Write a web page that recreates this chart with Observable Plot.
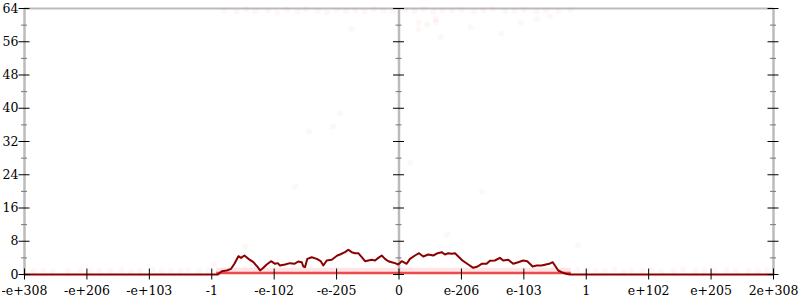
<!DOCTYPE html>
<html>
<head>
<meta charset="utf-8">
<script src="https://cdn.jsdelivr.net/npm/d3@7"></script>
<script src="https://cdn.jsdelivr.net/npm/@observablehq/plot@0.6"></script>
<style>
  html, body { margin: 0; padding: 0; background: #fff; }
  #chart svg { display: block; }
</style>
</head>
<body>
<div id="chart"></div>
<script>
// Tick positions (index space) and their labels
const xTicks = [-6, -5, -4, -3, -2, -1, 0, 1, 2, 3, 4, 5, 6];
const xTickLabels = ["-e+308", "-e+206", "-e+103", "-1", "-e-102", "-e-205", "0", "e-206", "e-103", "1", "e+102", "e+205", "2e+308"];
const yMajor = [0, 8, 16, 24, 32, 40, 48, 56, 64];
const yMinor = [4, 12, 20, 28, 36, 44, 52, 60];
const axisXs = [-6, 0, 6];

// Dark red series
const lineX = [-6, -2.903, -2.839, -2.759, -2.690, -2.637, -2.573, -2.530, -2.477, -2.413, -2.333, -2.263, -2.226, -2.173, -2.119, -2.050, -1.986, -1.943, -1.906, -1.826, -1.746, -1.677, -1.613, -1.558, -1.533, -1.506, -1.469, -1.398, -1.318, -1.254, -1.212, -1.158, -1.078, -1.025, -0.988, -0.945, -0.865, -0.812, -0.758, -0.705, -0.652, -0.597, -0.544, -0.491, -0.436, -0.384, -0.331, -0.277, -0.224, -0.171, -0.117, -0.064, -0.011, 0.043, 0.123, 0.176, 0.256, 0.320, 0.389, 0.469, 0.549, 0.620, 0.684, 0.737, 0.789, 0.844, 0.897, 0.950, 1.004, 1.057, 1.110, 1.190, 1.260, 1.324, 1.404, 1.457, 1.537, 1.617, 1.670, 1.750, 1.830, 1.910, 1.990, 2.054, 2.109, 2.141, 2.205, 2.285, 2.354, 2.407, 2.461, 2.498, 2.551, 2.605, 2.674, 2.738, 6];
const lineY = [0, 0, 0.79, 0.96, 1.37, 2.57, 4.40, 4.00, 4.57, 3.77, 2.96, 1.76, 0.96, 1.61, 2.41, 3.20, 2.57, 2.73, 2.17, 2.41, 2.73, 2.57, 3.13, 2.96, 1.93, 1.76, 3.77, 4.16, 3.77, 3.20, 2.17, 3.37, 3.53, 4.16, 4.57, 4.81, 5.37, 5.95, 5.37, 5.13, 5.13, 4.16, 3.20, 3.37, 3.53, 3.37, 4.00, 4.57, 3.77, 3.20, 2.96, 2.73, 2.41, 3.20, 2.57, 3.77, 4.57, 5.13, 4.33, 4.81, 4.57, 5.13, 5.37, 4.81, 5.13, 4.97, 5.13, 4.33, 3.53, 2.96, 2.41, 1.61, 1.93, 2.57, 2.57, 3.30, 3.37, 4.00, 3.37, 3.53, 2.57, 2.96, 3.37, 3.20, 2.41, 1.93, 2.17, 2.17, 2.41, 2.57, 2.96, 2.17, 0.96, 0.55, 0.17, 0, 0];

// Faint pink samples
const dotX = [-5.85, -5.7, -5.55, -5.3, -5.1, -4.95, -4.8, -4.62, -4.45, -4.3, -4.15, -3.95, -3.8, -3.66, -3.5, -3.38, -3.2, -3.05,
  2.85, 3.0, 3.15, 3.3, 3.45, 3.6, 3.72, 3.9, 4.05, 4.2, 4.4, 4.55, 4.75, 4.9, 5.05, 5.25, 5.4, 5.6, 5.75, 5.9,
  -2.8, -2.6, -2.45, -2.3, -2.1, -1.95, -1.8, -1.62, -1.5, -1.3, -1.15, -1.0, -0.85, -0.7, -0.55, -0.4, -0.25, -0.1,
  0.1, 0.25, 0.4, 0.55, 0.7, 0.85, 1.0, 1.2, 1.35, 1.5, 1.7, 1.85, 2.0, 2.2, 2.35, 2.55, 2.75,
  -0.945, -1.057, -1.441, -1.665, 0.176, 1.329, 0.769, -2.466, 2.866, -2.962,
  0.31, 0.45, 0.59, 0.59, 0.31, 0.67, 1.15, 1.64, 1.95, 2.21, 2.42, -0.76];
const dotY = [0.9, 1.1, 0.7, 1.0, 1.2, 0.8, 1.0, 0.9, 1.1, 0.7, 1.0, 1.2, 0.8, 1.0, 0.9, 1.1, 0.8, 1.0,
  1.0, 0.8, 1.1, 0.9, 1.2, 0.7, 1.0, 0.9, 1.1, 0.8, 1.0, 1.2, 0.9, 1.0, 0.8, 1.1, 0.9, 1.0, 0.8, 1.1,
  63.6, 63.2, 63.8, 63.4, 63.6, 63.0, 63.7, 63.3, 63.8, 63.5, 63.1, 63.7, 63.4, 63.6, 63.2, 63.8, 63.5, 63.3,
  63.6, 63.4, 63.8, 63.2, 63.6, 63.5, 63.7, 63.3, 63.6, 63.8, 63.4, 63.5, 63.7, 63.2, 63.6, 63.4, 63.7,
  38.7, 35.6, 34.4, 21.2, 26.9, 20.0, 9.6, 6.7, 7.0, 2.6,
  60.6, 60.1, 61.5, 60.7, 59.0, 57.1, 59.5, 57.9, 60.6, 61.4, 62.1, 59.1];

// Dense sample band near zero between -1 and 1
const bandX1 = [-2.92];
const bandX2 = [2.76];
const bandTop = [1.5];

const line = lineX.map((x, i) => ({x, y: lineY[i]}));
const dots = dotX.map((x, i) => ({x, y: dotY[i]}));
const band = bandX1.map((x1, i) => ({x1, x2: bandX2[i], y2: bandTop[i]}));
const majorTicks = axisXs.flatMap(ax => yMajor.map(y => ({ax, y})));
const minorTicks = axisXs.flatMap(ax => yMinor.map(y => ({ax, y})));
const xLabelData = xTicks.map((x, i) => ({x, label: xTickLabels[i]}));

const chart = Plot.plot({
  width: 800,
  height: 300,
  marginLeft: 24,
  marginRight: 27,
  marginTop: 8,
  marginBottom: 26,
  x: {domain: [-6, 6], axis: null},
  y: {domain: [0, 64], axis: null},
  style: {fontFamily: "'DejaVu Serif', serif", fontSize: "12.5px", background: "#fff", color: "#000"},
  marks: [
    Plot.ruleX(axisXs, {stroke: "#bbb", strokeWidth: 2.5}),
    Plot.ruleY([64], {stroke: "#bbb", strokeWidth: 2}),
    Plot.rect(band, {x1: "x1", x2: "x2", y1: 0, y2: "y2", fill: "#ff7070", fillOpacity: 0.18}),
    Plot.dot(dots, {x: "x", y: "y", r: 3, fill: "#ff5050", fillOpacity: 0.05}),
    Plot.ruleY(band, {x1: "x1", x2: "x2", y: 0.35, stroke: "#e83030", strokeWidth: 2.5, strokeOpacity: 0.85}),
    Plot.line(line, {x: "x", y: "y", stroke: "#8b0000", strokeWidth: 2}),
    Plot.ruleY(minorTicks, {x1: "ax", x2: "ax", y: "y", stroke: "#777", strokeWidth: 1, insetLeft: -3, insetRight: -3}),
    Plot.ruleY(majorTicks, {x1: "ax", x2: "ax", y: "y", stroke: "#000", strokeWidth: 1, insetLeft: -5.5, insetRight: -5.5}),
    Plot.ruleX(xTicks, {x: d => d, y1: 0, y2: 0, stroke: "#000", strokeWidth: 1, insetTop: -5.5, insetBottom: -5.5}),
    Plot.text(yMajor, {x: -6, y: d => d, text: d => String(d), textAnchor: "end", dx: -6, fill: "#000"}),
    Plot.text(xLabelData, {x: "x", y: 0, text: "label", dy: 16, fill: "#000"})
  ]
});
document.getElementById("chart").appendChild(chart);
</script>
</body>
</html>
